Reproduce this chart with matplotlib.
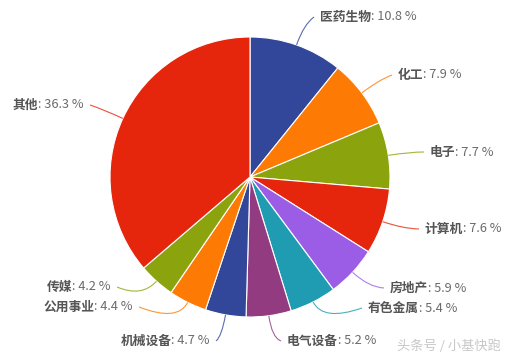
import numpy as np
import matplotlib.pyplot as plt
from matplotlib.path import Path
from matplotlib.patches import PathPatch

plt.rcParams['font.family'] = ['Noto Sans CJK SC', 'DejaVu Sans']

categories = ['医药生物', '化工', '电子', '计算机', '房地产', '有色金属',
              '电气设备', '机械设备', '公用事业', '传媒', '其他']
shares = [10.8, 7.9, 7.7, 7.6, 5.9, 5.4, 5.2, 4.7, 4.4, 4.2, 36.3]
colors = ['#33479a', '#fd7b05', '#8ba40d', '#e5260c', '#9b5de6', '#1f9bb2',
          '#923b80', '#33479a', '#fd7b05', '#8ba40d', '#e5260c']

W, H = 509, 357
CX, CY, R = 250, 177, 140

# label anchor (pixel coords, top-left origin), side of text the line joins
label_pos = [(320, 17, 'l'), (398, 75, 'l'), (430, 152, 'l'), (425, 229, 'l'),
             (390, 288, 'l'), (368, 308, 'l'), (287, 341, 'l'), (210, 341, 'r'),
             (133, 307, 'r'), (111, 287, 'r'), (84, 105, 'r')]

fig = plt.figure(figsize=(W / 100, H / 100), dpi=100)
ax = fig.add_axes([0, 0, 1, 1])

ax.pie(shares, colors=colors, startangle=90, counterclock=False,
       center=(CX, H - CY), radius=R,
       wedgeprops=dict(edgecolor='white', linewidth=0.8))
ax.set_xlim(0, W)
ax.set_ylim(0, H)
ax.set_aspect('equal')
ax.axis('off')

renderer = fig.canvas.get_renderer()
total = sum(shares)
start = 0.0
for cat, val, col, (lx, ly, side) in zip(categories, shares, colors, label_pos):
    mid = (start + val / 2) / total * 2 * np.pi
    start += val
    sx, sy = CX + R * np.sin(mid), CY - R * np.cos(mid)
    cxp, cyp = CX + (R + 22) * np.sin(mid), CY - (R + 22) * np.cos(mid)
    ex = lx - 6 if side == 'l' else lx + 6
    verts = [(sx, H - sy), (cxp, H - cyp), (ex, H - ly)]
    path = Path(verts, [Path.MOVETO, Path.CURVE3, Path.CURVE3])
    ax.add_patch(PathPatch(path, fill=False, edgecolor=col, lw=0.8, alpha=0.8))

    value = f': {val} %'
    if side == 'l':
        t = ax.text(lx, H - ly, cat, fontsize=9.2, fontweight='bold',
                    color='#555555', ha='left', va='center')
        bb = t.get_window_extent(renderer).transformed(ax.transData.inverted())
        ax.text(bb.x1, H - ly, value, fontsize=9.2, color='#6a6a6a',
                ha='left', va='center')
    else:
        t = ax.text(lx, H - ly, value, fontsize=9.2, color='#6a6a6a',
                    ha='right', va='center')
        bb = t.get_window_extent(renderer).transformed(ax.transData.inverted())
        ax.text(bb.x0, H - ly, cat, fontsize=9.2, fontweight='bold',
                color='#555555', ha='right', va='center')

ax.text(501, H - 346, '头条号 / 小基快跑', fontsize=9.5, color='#c8c8c8',
        ha='right', va='center')

fig.savefig('out.png', dpi=100, facecolor='white')
